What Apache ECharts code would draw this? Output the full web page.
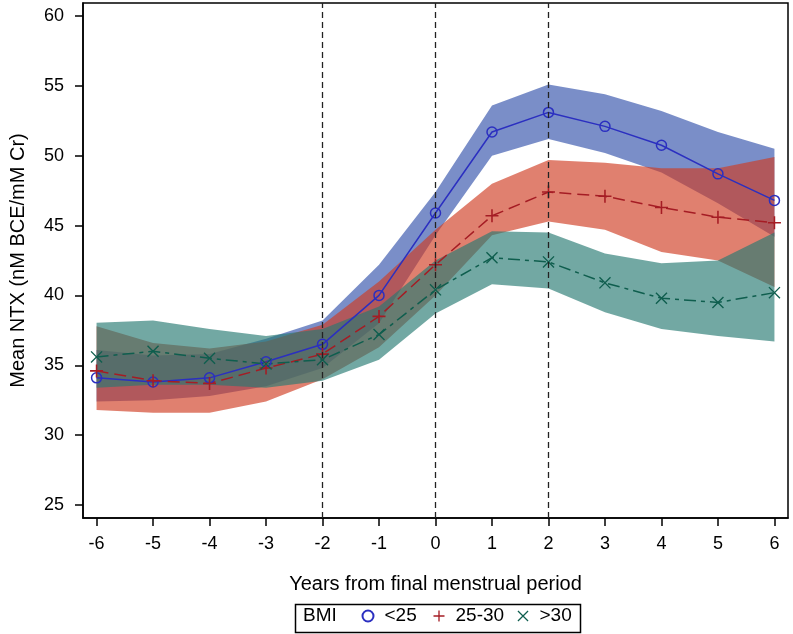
<!DOCTYPE html>
<html>
<head>
<meta charset="utf-8">
<script src="https://cdn.jsdelivr.net/npm/echarts@6/dist/echarts.min.js"></script>
<style>
html,body{margin:0;padding:0;background:#fff;}
#chart{width:793px;height:634px;}
</style>
</head>
<body>
<div id="chart"></div>
<script>
// ---- data ----
const years = [-6, -5, -4, -3, -2, -1, 0, 1, 2, 3, 4, 5, 6];
const xTicks = [-6, -5, -4, -3, -2, -1, 0, 1, 2, 3, 4, 5, 6];
const yTicks = [25, 30, 35, 40, 45, 50, 55, 60];
const refLines = [-2, 0, 2];
const seriesNames = ['<25', '25-30', '>30'];

const meanLt25 = [34.1, 33.8, 34.1, 35.25, 36.5, 40.0, 45.9, 51.7, 53.1, 52.1, 50.75, 48.7, 46.8];
const lowLt25  = [32.4, 32.5, 32.8, 33.5, 34.8, 38.0, 44.3, 50.0, 51.2, 50.2, 48.8, 46.6, 44.2];
const highLt25 = [36.1, 35.7, 35.8, 36.9, 38.2, 42.2, 47.4, 53.6, 55.1, 54.4, 53.2, 51.7, 50.5];

const mean2530 = [34.6, 33.9, 33.7, 34.8, 35.8, 38.5, 42.2, 45.7, 47.4, 47.1, 46.3, 45.6, 45.2];
const low2530  = [31.8, 31.6, 31.6, 32.4, 34.0, 36.3, 40.0, 44.3, 45.3, 44.7, 43.1, 42.5, 40.6];
const high2530 = [37.8, 36.6, 36.2, 36.7, 37.9, 41.0, 44.7, 48.0, 49.7, 49.5, 49.1, 49.1, 49.9];

const meanGt30 = [35.6, 36.0, 35.5, 35.1, 35.4, 37.2, 40.4, 42.7, 42.4, 40.9, 39.8, 39.5, 40.2];
const lowGt30  = [33.4, 33.6, 33.6, 33.4, 33.9, 35.4, 38.7, 40.8, 40.5, 38.8, 37.6, 37.1, 36.7];
const highGt30 = [38.05, 38.2, 37.6, 37.1, 37.6, 39.2, 42.5, 44.6, 44.5, 43.0, 42.3, 42.5, 44.5];

// ---- styling ----
const FONT = 'Liberation Sans, Arial, sans-serif';
const lineColors = ['#2B2FC0', '#A51C24', '#0F5E4E'];
const bandColors = ['rgba(50,81,170,0.65)', 'rgba(207,60,34,0.65)', 'rgba(38,121,113,0.65)'];
const plusPath = 'path://M4.4,0 L5.6,0 L5.6,10 L4.4,10 Z M0,4.4 L10,4.4 L10,5.6 L0,5.6 Z';
const xPath = 'path://M0.8,0 L10,9.2 L9.2,10 L0,0.8 Z M9.2,0 L10,0.8 L0.8,10 L0,9.2 Z';

function bandSeries(lo, hi, color) {
  const data = years.map((x, i) => [x, lo[i], hi[i]]);
  return {
    type: 'custom',
    silent: true,
    z: 1,
    encode: { x: 0, y: [1, 2] },
    data: data,
    renderItem: function (params, api) {
      if (params.dataIndex !== 0) return null;
      const pts = [];
      for (let i = 0; i < data.length; i++) pts.push(api.coord([data[i][0], data[i][2]]));
      for (let i = data.length - 1; i >= 0; i--) pts.push(api.coord([data[i][0], data[i][1]]));
      return { type: 'polygon', shape: { points: pts }, style: { fill: color, stroke: 'none' } };
    }
  };
}

function lineSeries(name, vals, color, symbol, symbolSize, itemStyle, lineType) {
  return {
    name: name,
    type: 'line',
    z: 3,
    data: years.map((x, i) => [x, vals[i]]),
    symbol: symbol,
    symbolSize: symbolSize,
    showAllSymbol: true,
    itemStyle: itemStyle,
    lineStyle: { color: color, width: 1.5, type: lineType },
    emphasis: { disabled: true },
    animation: false
  };
}

function legendItem(name, icon, left) {
  return {
    left: left, top: 606.5, padding: 0,
    itemWidth: 11, itemHeight: 11,
    selectedMode: false,
    textStyle: { fontSize: 19, color: '#000', fontFamily: FONT, padding: [0, 0, 0, 6] },
    data: [{ name: name, icon: icon }]
  };
}

const chart = echarts.init(document.getElementById('chart'), null, { renderer: 'canvas' });

const option = {
  animation: false,
  backgroundColor: '#fff',
  grid: { left: 83, right: 5, top: 3, bottom: 116, show: true, borderColor: '#000', borderWidth: 1.5, backgroundColor: 'transparent' },
  xAxis: {
    type: 'value', min: -6.24, max: 6.24,
    axisLine: { show: true, onZero: false, lineStyle: { color: '#000', width: 1.5 } },
    axisTick: { show: true, length: 8, customValues: xTicks, lineStyle: { color: '#000', width: 1.5 } },
    axisLabel: { customValues: xTicks, fontSize: 18, color: '#000', margin: 17, fontFamily: FONT },
    splitLine: { show: false },
    name: 'Years from final menstrual period', nameLocation: 'middle', nameGap: 56,
    nameTextStyle: { fontSize: 20, color: '#000', fontFamily: FONT }
  },
  yAxis: {
    type: 'value', min: 24.07, max: 60.93,
    axisLine: { show: true, onZero: false, lineStyle: { color: '#000', width: 1.5 } },
    axisTick: { show: true, length: 8, customValues: yTicks, lineStyle: { color: '#000', width: 1.5 } },
    axisLabel: { customValues: yTicks, fontSize: 18, color: '#000', margin: 19, fontFamily: FONT },
    splitLine: { show: false },
    name: 'Mean NTX (nM BCE/mM Cr)', nameLocation: 'middle', nameGap: 55,
    nameTextStyle: { fontSize: 20, color: '#000', fontFamily: FONT }
  },
  legend: [
    legendItem(seriesNames[0], 'circle', 361.5),
    legendItem(seriesNames[1], plusPath, 433.5),
    legendItem(seriesNames[2], xPath, 517.5)
  ],
  graphic: [
    { type: 'rect', left: 293, top: 602, shape: { width: 285, height: 28 }, style: { fill: 'none', stroke: '#000', lineWidth: 1.5 }, z: 10 },
    { type: 'text', x: 303, y: 616, style: { text: 'BMI', fontSize: 19, fill: '#000', fontFamily: FONT, verticalAlign: 'middle', align: 'left' }, z: 10 }
  ],
  series: [
    bandSeries(lowLt25, highLt25, bandColors[0]),
    bandSeries(low2530, high2530, bandColors[1]),
    bandSeries(lowGt30, highGt30, bandColors[2]),
    Object.assign(lineSeries(seriesNames[0], meanLt25, lineColors[0], 'circle', 10,
      { color: 'rgba(0,0,0,0)', borderColor: lineColors[0], borderWidth: 1.5 }, 'solid'), {
      markLine: {
        silent: true, symbol: 'none', label: { show: false },
        lineStyle: { color: '#222', width: 1.3, type: [6, 4] },
        data: refLines.map(v => ({ xAxis: v }))
      }
    }),
    lineSeries(seriesNames[1], mean2530, lineColors[1], plusPath, 13, { color: lineColors[1] }, [12, 6]),
    lineSeries(seriesNames[2], meanGt30, lineColors[2], xPath, 12, { color: lineColors[2] }, [12, 5, 4, 5])
  ]
};
chart.setOption(option);
</script>
</body>
</html>
